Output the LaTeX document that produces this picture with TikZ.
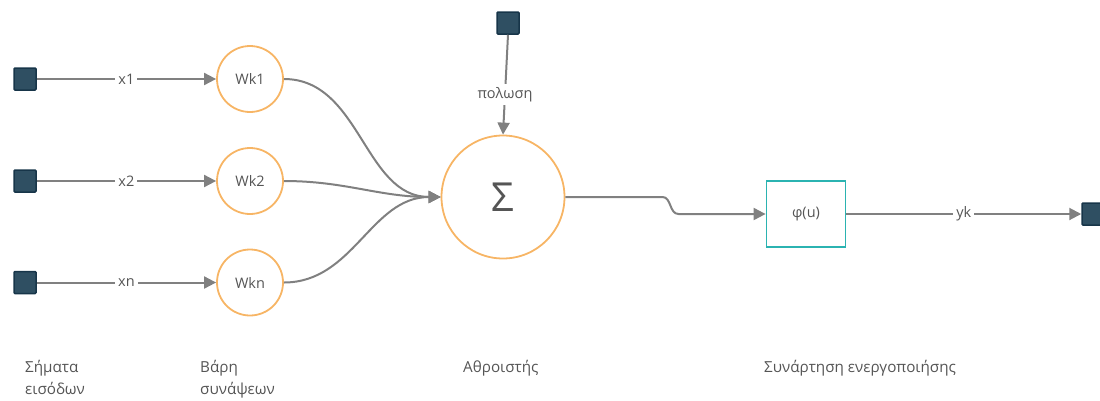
\documentclass[tikz,border=0pt]{standalone}
\usepackage{fontspec}
\setmainfont{Open Sans}
\usetikzlibrary{arrows.meta}
\definecolor{portfill}{HTML}{2F4F62}
\definecolor{portedge}{HTML}{173549}
\definecolor{orangeedge}{HTML}{F7B565}
\definecolor{tealedge}{HTML}{2BB3B1}
\definecolor{linegray}{HTML}{808080}
\definecolor{textgray}{HTML}{555555}

\begin{document}
\begin{tikzpicture}[x=1pt,y=-1pt,
  port/.style={draw=portedge,fill=portfill,line width=1.5pt,minimum size=22pt,inner sep=0pt,rounded corners=1pt},
  weight/.style={circle,draw=orangeedge,line width=1.8pt,minimum size=66pt,inner sep=0pt,text=textgray,font=\fontsize{14.5}{16}\selectfont},
  conn/.style={draw=linegray,line width=2pt,-{Triangle[length=12pt,width=12pt]}},
  lbl/.style={fill=white,text=textgray,inner sep=3pt,font=\fontsize{14.5}{16}\selectfont},
  caption/.style={anchor=north west,align=left,text=textgray,inner sep=0pt,font=\fontsize{15.2}{22}\selectfont}
]
\useasboundingbox (0,0) rectangle (1100,400);

% input signals and synaptic weights
\node[port] (in1) at (25,79) {};
\node[port] (in2) at (25,181) {};
\node[port] (in3) at (25,282.5) {};
\node[weight] (w1) at (250,79) {Wk1};
\node[weight] (w2) at (250,181) {Wk2};
\node[weight] (w3) at (250,282.5) {Wkn};

% summing junction, bias and activation
\node[circle,draw=orangeedge,line width=1.8pt,minimum size=123pt,inner sep=0pt,text=textgray,font=\fontsize{40}{42}\selectfont] (sum) at (503,197) {Σ};
\node[port] (bias) at (508,23) {};
\node[draw=tealedge,line width=1.8pt,minimum width=79pt,minimum height=66pt,inner sep=0pt,text=textgray,font=\fontsize{14.5}{16}\selectfont] (phi) at (806,214) {φ(u)};
\node[port] (out) at (1093,214) {};

% connections
\draw[conn] (in1) -- node[lbl]{x1} (w1);
\draw[conn] (in2) -- node[lbl]{x2} (w2);
\draw[conn] (in3) -- node[lbl]{xn} (w3);
\draw[conn] (w1.east) to[out=0,in=180] (sum.west);
\draw[conn] (w2.east) to[out=0,in=180] (sum.west);
\draw[conn] (w3.east) to[out=0,in=180] (sum.west);
\draw[conn] (bias.south) -- node[lbl,pos=0.6]{πολωση} (sum.north);
\draw[conn] (sum.east) -- ++(97,0) to[out=0,in=180] ++(16,17) -- (phi.west);
\draw[conn] (phi.east) -- node[lbl,pos=0.5]{yk} (out.west);

% stage captions
\node[caption] (c1) at (25,360) {Σήματα\\εισόδων};
\node[caption] (c2) at (200,360) {Βάρη\\συνάψεων};
\node[caption] (c3) at (463,360) {Αθροιστής};
\node[caption] (c4) at (764,360) {Συνάρτηση ενεργοποιήσης};
\end{tikzpicture}
\end{document}
